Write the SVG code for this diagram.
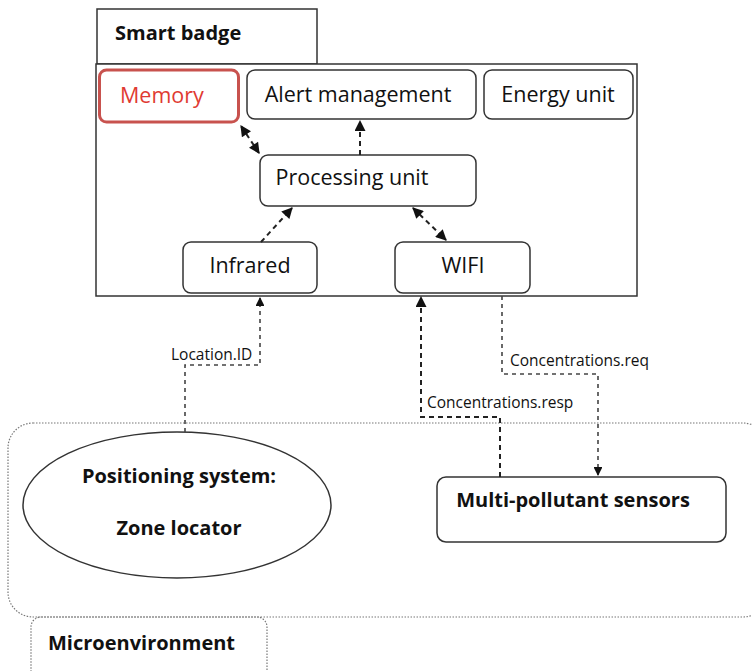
<svg xmlns="http://www.w3.org/2000/svg" width="752" height="671" viewBox="0 0 752 671">
<defs>
<style>
.box{fill:#fff;stroke:#333;stroke-width:1.5}
.t{font-family:"Open Sans","Liberation Sans",sans-serif;font-size:21.5px;fill:#111}
.b{font-weight:bold;font-size:20px}
.s{font-family:"Open Sans","Liberation Sans",sans-serif;font-size:15.5px;fill:#111}
.c{fill:none;stroke:#222;stroke-width:2;stroke-dasharray:5 4}
.c2{fill:none;stroke:#444;stroke-width:1.6;stroke-dasharray:4 4}
.dot{fill:none;stroke:#777;stroke-width:1.2;stroke-dasharray:1.5 1.5}
</style>
<marker id="ah" viewBox="0 0 10 10" refX="9" refY="5" markerWidth="6" markerHeight="5.5" orient="auto-start-reverse">
<path d="M0,0 L10,5 L0,10 z" fill="#111"/>
</marker>
</defs>
<rect width="752" height="671" fill="#fff"/>
<g id="microenvironment">
<rect class="dot" x="8" y="423" width="760" height="194" rx="25"/>
<rect class="dot" x="31" y="617" width="236" height="70" rx="10"/>
<text class="t b" x="48" y="650">Microenvironment</text>
</g>
<g id="smart-badge">
<rect class="box" x="97" y="9" width="220" height="55"/>
<rect class="box" x="96" y="64" width="541" height="232"/>
<text class="t b" x="115" y="40">Smart badge</text>
</g>
<g id="memory">
<rect x="99.5" y="70" width="139" height="52" rx="7" fill="#fff" stroke="#c8524e" stroke-width="3"/>
<text class="t" x="120" y="103" style="fill:#e03a32">Memory</text>
</g>
<g id="alert">
<rect class="box" x="247" y="70" width="229" height="49" rx="8"/>
<text class="t" x="358" y="102" text-anchor="middle">Alert management</text>
</g>
<g id="energy">
<rect class="box" x="484" y="70" width="149" height="49" rx="8"/>
<text class="t" x="558" y="102" text-anchor="middle">Energy unit</text>
</g>
<g id="processing">
<rect class="box" x="260" y="155" width="216" height="51" rx="8"/>
<text class="t" x="352" y="185" text-anchor="middle">Processing unit</text>
</g>
<g id="infrared">
<rect class="box" x="183" y="242" width="134" height="51" rx="8"/>
<text class="t" x="250" y="273" text-anchor="middle">Infrared</text>
</g>
<g id="wifi">
<rect class="box" x="395" y="242" width="135" height="51" rx="8"/>
<text class="t" x="463" y="273" text-anchor="middle">WIFI</text>
</g>
<g id="positioning">
<ellipse class="box" cx="177" cy="505" rx="154" ry="73"/>
<text class="t b" x="179" y="483" text-anchor="middle">Positioning system:</text>
<text class="t b" x="179" y="535" text-anchor="middle">Zone locator</text>
</g>
<g id="sensors">
<rect class="box" x="437" y="477" width="289" height="65" rx="9"/>
<text class="t b" x="573" y="507" text-anchor="middle">Multi-pollutant sensors</text>
</g>
<g id="connectors">
<line class="c" x1="259" y1="153" x2="241" y2="126" marker-start="url(#ah)" marker-end="url(#ah)"/>
<line class="c" x1="360" y1="155" x2="360" y2="121" marker-end="url(#ah)"/>
<line class="c" x1="261" y1="242" x2="292" y2="208" marker-end="url(#ah)"/>
<line class="c" x1="413" y1="208" x2="446" y2="240" marker-start="url(#ah)" marker-end="url(#ah)"/>
<polyline class="c2" points="185,432 185,365 260,365 260,298" marker-end="url(#ah)"/>
<polyline class="c" points="500,477 500,417 421,417 421,297" marker-end="url(#ah)"/>
<polyline class="c2" points="502,296 502,374 598,374 598,475" marker-end="url(#ah)"/>
<text class="s" x="171" y="360">Location.ID</text>
<text class="s" x="510" y="366">Concentrations.req</text>
<text class="s" x="427" y="408">Concentrations.resp</text>
</g>
</svg>
